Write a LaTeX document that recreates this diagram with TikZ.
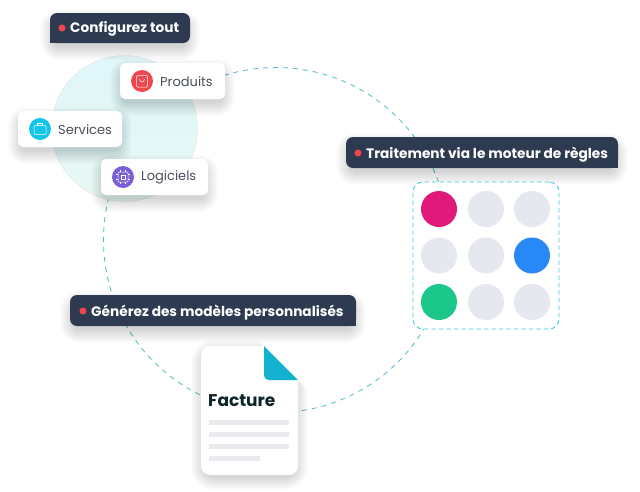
\documentclass[tikz,border=0pt]{standalone}
\usepackage{fontspec}
\setmainfont{Poppins}
\usetikzlibrary{calc}
\definecolor{navy}{HTML}{2D3A50}
\definecolor{reddot}{HTML}{F0474F}
\definecolor{ringc}{HTML}{4DBCC8}
\definecolor{boxc}{HTML}{3CCBE0}
\definecolor{greyc}{HTML}{E5E8EE}
\definecolor{linec}{HTML}{E9EBEF}
\definecolor{inkc}{HTML}{4A4F5C}
\definecolor{discA}{HTML}{E0F6F8}
\definecolor{discB}{HTML}{E8F8F5}
\definecolor{foldc}{HTML}{12B2D0}
\definecolor{factc}{HTML}{0E2428}
\definecolor{beadM}{HTML}{E0197A}
\definecolor{beadB}{HTML}{2888F5}
\definecolor{beadG}{HTML}{1CC78A}
\definecolor{iconS}{HTML}{12C6EA}
\definecolor{iconL}{HTML}{7A5FD8}
\tikzset{
  x=1pt,y=-1pt,
  ring/.style={draw=ringc,line width=.8pt,dash pattern=on 5pt off 5pt},
  card/.style={fill=white,rounded corners=5pt,draw=none,inner sep=0pt,minimum height=36pt},
  cardtext/.style={text=inkc,font=\fontsize{13}{13}\selectfont,anchor=west,inner sep=0pt},
  headtext/.style={text=white,font=\fontsize{13.7}{14}\selectfont\bfseries,anchor=west,inner sep=0pt},
  icon/.style={circle,inner sep=0pt,minimum size=22pt},
  bead/.style={circle,inner sep=0pt,minimum size=36pt},
  dot/.style={circle,fill=reddot,inner sep=0pt,minimum size=7pt},
  glyph/.style={draw=white,line width=.5pt,fill=none},
  docline/.style={fill=linec,draw=none},
}
\newcommand{\softshadow}[6]{% x1 y1 x2 y2 radius dy
  \foreach \k in {13,12,...,0}{
    \fill[black,opacity=.012,rounded corners=#5+\k]
      (#1-\k+3,#2-\k+#6+3) rectangle (#3+\k-3,#4+\k+#6-2);
  }
}
\begin{document}
\begin{tikzpicture}
\useasboundingbox[fill=white] (0,0) rectangle (640,491);
% large ring
\coordinate (ringc) at (276,240);
\draw[ring] (ringc) circle (172.5);
% disc
\node[circle,inner sep=0pt,minimum size=146pt,draw=black!10,line width=.4pt,top color=discA,bottom color=discB] (disc) at (124.5,128.5) {};
% cards
\softshadow{120}{63}{225}{99}{5}{6}
\softshadow{18}{111}{122}{147}{5}{6}
\softshadow{101}{159}{208}{195}{5}{6}
\node[card,minimum width=105pt] (produits) at (172.5,81) {};
\node[card,minimum width=104pt] (services) at (70,129) {};
\node[card,minimum width=107pt] (logiciels) at (154.5,177) {};
\node[icon,fill=reddot] (iconP) at (142,81) {};
\node[icon,fill=iconS] (iconSv) at (40,129) {};
\node[icon,fill=iconL] (iconLg) at (123,177) {};
\draw[glyph,rounded corners=1pt] (136.5,75.5) rectangle (147.5,87);
\draw[glyph] (139.5,79) .. controls (140,83) and (144,83) .. (144.5,79);
\draw[glyph,rounded corners=1pt] (34,125.5) rectangle (46,134.5);
\draw[glyph] (37.5,125.5) -- (37.5,123) -- (42.5,123) -- (42.5,125.5);
\draw[glyph,rounded corners=1pt] (118,172) rectangle (128,182);
\draw[glyph] (120.8,174.8) rectangle (125.2,179.2);
\foreach \d in {-2.5,2.5}{
  \draw[white,line width=.4pt] (123+\d,170) -- (123+\d,172) (123+\d,182) -- (123+\d,184)
    (116,177+\d) -- (118,177+\d) (128,177+\d) -- (130,177+\d);
}
\node[cardtext] (tP) at (160,81.7) {Produits};
\node[cardtext] (tS) at (58,129.7) {Services};
\node[cardtext] (tL) at (141,177.7) {Logiciels};
% heading 1
\softshadow{50}{13}{190}{43}{7}{6}
\fill[navy,rounded corners=7pt] (50,13) rectangle (190,43);
\fill[navy] (50,33) rectangle (60,43);
\node[dot] (d1) at (62,28) {};
\node[headtext] (h1) at (70,29.3) {Configurez tout};
% matrix box
\softshadow{346}{137}{618}{168}{7}{6}
\node[draw=boxc,fill=white,line width=.9pt,dash pattern=on 4.5pt off 3pt,rounded corners=10pt,inner sep=0pt,minimum width=146pt,minimum height=147pt] (grid) at (486,255.5) {};
\fill[navy,rounded corners=7pt] (346,137) rectangle (618,168);
\fill[navy] (608,158) rectangle (618,168);
\node[dot] (d2) at (358,153) {};
\node[headtext] (h2) at (366,154.3) {Traitement via le moteur de règles};
\node[bead,fill=beadM] (b11) at (439,209) {};
\node[bead,fill=greyc] (b12) at (486,209) {};
\node[bead,fill=greyc] (b13) at (532,209) {};
\node[bead,fill=greyc] (b21) at (439,255.5) {};
\node[bead,fill=greyc] (b22) at (486,255.5) {};
\node[bead,fill=beadB] (b23) at (532,255.5) {};
\node[bead,fill=beadG] (b31) at (439,302) {};
\node[bead,fill=greyc] (b32) at (486,302) {};
\node[bead,fill=greyc] (b33) at (532,302) {};
% heading 3
\softshadow{70}{295}{356}{326}{7}{6}
\fill[navy,rounded corners=7pt] (70,295) rectangle (356,326);
\fill[navy] (346,316) rectangle (356,326);
\node[dot] (d3) at (83,311) {};
\node[headtext] (h3) at (91,312.3) {Générez des modèles personnalisés};
% document
\begin{scope}
  \clip (150,330) -- (248,330) -- (340,422) -- (340,520) -- (150,520) -- cycle;
  \softshadow{201}{346}{298}{475}{10}{4}
\end{scope}
\fill[white,rounded corners=9pt] (264,346) -- (201,346) -- (201,475) -- (298,475) -- (298,380);
\fill[white] (240,346) -- (264,346) -- (298,380) -- (298,400) -- (240,400) -- cycle;
\fill[foldc] (264,346) -- (298,380) -- (270,380) .. controls (266,380) and (264,378) .. (264,374) -- cycle;
\node[text=factc,font=\fontsize{17}{18}\selectfont\bfseries,anchor=west,inner sep=0pt] (facture) at (208,401) {Facture};
\fill[docline] (209,420) rectangle (289,425);
\fill[docline] (209,432) rectangle (289,437);
\fill[docline] (209,444) rectangle (289,449);
\fill[docline] (209,456) rectangle (260,461);
\end{tikzpicture}
\end{document}
